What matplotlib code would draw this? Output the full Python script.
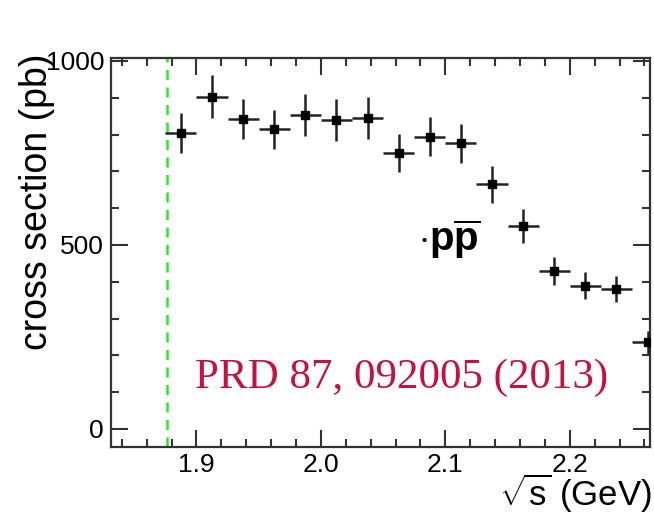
import matplotlib
matplotlib.use("Agg")
import matplotlib.pyplot as plt
from matplotlib.ticker import MultipleLocator

plt.rcParams['font.family'] = ['Liberation Sans', 'DejaVu Sans']
plt.rcParams['mathtext.fontset'] = 'custom'
plt.rcParams['mathtext.rm'] = 'Liberation Sans'
plt.rcParams['mathtext.bf'] = 'Liberation Sans:bold'

# data (BaBar e+e- -> p pbar)
sqrt_s = [1.8875, 1.9125, 1.9375, 1.9625, 1.9875, 2.0125, 2.0375, 2.0625,
          2.0875, 2.1125, 2.1375, 2.1625, 2.1875, 2.2125, 2.2375, 2.2625]
xsec = [805, 903, 842, 814, 853, 840, 844, 749,
        794, 776, 665, 552, 429, 389, 380, 235]
xsec_err = [54, 59, 54, 54, 57, 57, 57, 52,
            53, 52, 50, 47, 38, 37, 35, 30]
bin_half = [0.0125] * len(sqrt_s)
threshold = 1.8765
xtick_vals = [1.9, 2.0, 2.1, 2.2]
xtick_labels = ['1.9', '2.0', '2.1', '2.2']
ytick_vals = [0, 500, 1000]
ytick_labels = ['0', '500', '1000']

fig = plt.figure(figsize=(6.54, 5.16), dpi=100)
ax = fig.add_axes([0.1697, 0.1337, 0.8242, 0.7539])

ax.errorbar(sqrt_s, xsec, yerr=xsec_err, xerr=bin_half, fmt='s', color='black',
            ecolor='#222222', elinewidth=1.8, markersize=5.5, capsize=0, zorder=3)
ax.axvline(threshold, color='#22ee22', linestyle=(0, (4, 3)), linewidth=1.8, zorder=2)

ax.set_xlim(1.8313, 2.2645)
ax.set_ylim(-49, 1008)
ax.xaxis.set_minor_locator(MultipleLocator(0.02))
ax.yaxis.set_minor_locator(MultipleLocator(100))
ax.set_xticks(xtick_vals)
ax.set_xticklabels(xtick_labels, fontsize=19)
ax.set_yticks(ytick_vals)
ax.set_yticklabels(ytick_labels, fontsize=19)
ax.tick_params(which='both', direction='in', top=True, right=True, width=1.5,
               color='#333333')
ax.tick_params(which='major', length=12)
ax.tick_params(which='minor', length=6)
ax.tick_params(axis='x', pad=4)
ax.tick_params(axis='y', pad=5)
for sp in ax.spines.values():
    sp.set_linewidth(1.6)
    sp.set_color('#333333')

ax.set_ylabel('cross section (pb)', fontsize=27)
ax.yaxis.set_label_coords(-0.104, 0.63)

fig.text(0.997, 0.02, r'$\sqrt{\mathrm{s}}$ (GeV)', fontsize=25, ha='right', va='baseline')

ax.text(0.57, 0.535, r'$\cdot\mathbf{p}\overline{\mathbf{p}}$', transform=ax.transAxes,
        fontsize=29, color='black', ha='left', va='center')
ax.text(0.155, 0.152, 'PRD 87, 092005 (2013)', transform=ax.transAxes,
        fontsize=31, color='#C8103F', family='Liberation Serif', ha='left', va='baseline')

fig.savefig('out.png', dpi=100)
